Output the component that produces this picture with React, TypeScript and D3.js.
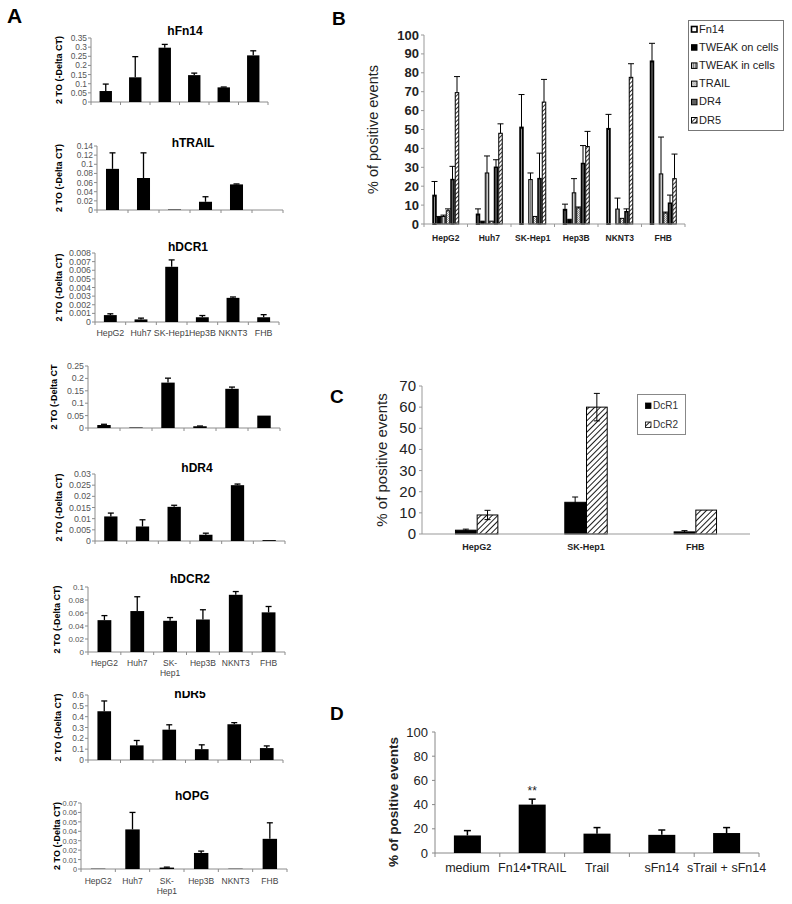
import React from "react";
import * as d3 from "d3";

const FONT = "Arial, 'Liberation Sans', Helvetica, sans-serif";

// ---------- Panel A data ----------
const cellLines = ["HepG2", "Huh7", "SK-Hep1", "Hep3B", "NKNT3", "FHB"];
const cellLinesTwoLine = [["HepG2"], ["Huh7"], ["SK-", "Hep1"], ["Hep3B"], ["NKNT3"], ["FHB"]];

const hFn14Values = [0.06, 0.135, 0.297, 0.147, 0.08, 0.255];
const hFn14Errors = [0.038, 0.113, 0.018, 0.011, 0.002, 0.025];
const hTRAILValues = [0.09, 0.07, 0.001, 0.018, 0.056, 0];
const hTRAILErrors = [0.035, 0.055, 0, 0.011, 0.001, 0];
const hDCR1Values = [0.0008, 0.0003, 0.0064, 0.00055, 0.0028, 0.00055];
const hDCR1Errors = [0.00015, 0.00015, 0.0008, 0.0002, 0.0001, 0.0003];
const untitledValues = [0.012, 0.002, 0.183, 0.007, 0.158, 0.05];
const untitledErrors = [0.003, 0, 0.018, 0.001, 0.007, 0];
const hDR4Values = [0.011, 0.0065, 0.0153, 0.0028, 0.025, 0.0004];
const hDR4Errors = [0.0015, 0.003, 0.0007, 0.0007, 0.0005, 0];
const hDCR2Values = [0.049, 0.063, 0.048, 0.05, 0.088, 0.061];
const hDCR2Errors = [0.007, 0.022, 0.005, 0.015, 0.005, 0.009];
const hDR5Values = [0.45, 0.135, 0.28, 0.1, 0.33, 0.11];
const hDR5Errors = [0.095, 0.045, 0.045, 0.04, 0.015, 0.02];
const hOPGValues = [0.0003, 0.042, 0.0015, 0.017, 0.0003, 0.032];
const hOPGErrors = [0, 0.018, 0.0005, 0.002, 0, 0.017];

// ---------- Panel B data ----------
const seriesB = ["Fn14", "TWEAK on cells", "TWEAK in cells", "TRAIL", "DR4", "DR5"];
const fn14Values = [15, 5, 51, 7.5, 50.3, 86];
const fn14Errors = [7.5, 3, 17.5, 3, 7.7, 9.6];
const tweakOnValues = [3.5, 1.5, 0, 2.5, 0, 0];
const tweakOnErrors = [0.5, 0, 0, 0, 0, 0];
const tweakInValues = [4, 27, 23.5, 16.5, 7.9, 26.5];
const tweakInErrors = [0.7, 9, 3.5, 7.5, 5.8, 19.5];
const trailValues = [7, 1.5, 4, 8.5, 3, 5.8];
const trailErrors = [1, 0, 0, 0.5, 0, 0.5];
const dr4Values = [23.5, 30, 24, 32, 6.5, 11];
const dr4Errors = [7, 4, 13.5, 9.5, 1.5, 4.3];
const dr5Values = [69.5, 48, 64.5, 41, 77.6, 24];
const dr5Errors = [8.5, 5, 12, 8, 7.2, 13];
const yTicksB = [0, 10, 20, 30, 40, 50, 60, 70, 80, 90, 100];

// ---------- Panel C data ----------
const cellLinesC = ["HepG2", "SK-Hep1", "FHB"];
const seriesC = ["DcR1", "DcR2"];
const dcr1Values = [1.8, 15, 1];
const dcr1Errors = [0.5, 2.5, 0.6];
const dcr2Values = [9, 60, 11.3];
const dcr2Errors = [2.2, 6.5, 0];
const yTicksC = [0, 10, 20, 30, 40, 50, 60, 70];

// ---------- Panel D data ----------
const treatmentsD = ["medium", "Fn14\u2022TRAIL", "Trail", "sFn14", "sTrail + sFn14"];
const dValues = [14.5, 40, 16, 15, 16.5];
const dErrors = [4, 4.5, 5, 4, 4.5];
const yTicksD = [0, 20, 40, 60, 80, 100];

// ---------- Panel A layouts ----------
type ACfg = {
  title: string; values: number[]; errors: number[]; max: number; step: number;
  x0: number; x1: number; yTop: number; yBot: number; titleX: number; titleY: number;
  labels: "none" | "single" | "double"; labelY: number; yLabel: string; yLabelX: number;
  tickFont: number; labelFont: number; clipTitle?: number;
};

const panelsA: ACfg[] = [
  { title: "hFn14", values: hFn14Values, errors: hFn14Errors, max: 0.35, step: 0.05,
    x0: 91, x1: 268, yTop: 38, yBot: 102, titleX: 185, titleY: 35, labels: "none", labelY: 0,
    yLabel: "2 TO (-Delta CT)", yLabelX: 62, tickFont: 8.4, labelFont: 8.5 },
  { title: "hTRAIL", values: hTRAILValues, errors: hTRAILErrors, max: 0.14, step: 0.02,
    x0: 97, x1: 283, yTop: 146, yBot: 210, titleX: 193, titleY: 147, labels: "none", labelY: 0,
    yLabel: "2 TO (-Delta CT)", yLabelX: 62, tickFont: 8.4, labelFont: 8.5 },
  { title: "hDCR1", values: hDCR1Values, errors: hDCR1Errors, max: 0.008, step: 0.001,
    x0: 95, x1: 279, yTop: 253, yBot: 322, titleX: 188, titleY: 251, labels: "single", labelY: 336,
    yLabel: "2 TO (-Delta CT)", yLabelX: 62, tickFont: 8.8, labelFont: 8.8 },
  { title: "", values: untitledValues, errors: untitledErrors, max: 0.25, step: 0.05,
    x0: 88, x1: 280, yTop: 366, yBot: 428, titleX: 190, titleY: 360, labels: "none", labelY: 0,
    yLabel: "2 TO (-Delta CT", yLabelX: 57, tickFont: 8.8, labelFont: 8.5 },
  { title: "hDR4", values: hDR4Values, errors: hDR4Errors, max: 0.03, step: 0.005,
    x0: 95, x1: 285, yTop: 474, yBot: 541, titleX: 197, titleY: 472, labels: "none", labelY: 0,
    yLabel: "2 TO (-Delta CT)", yLabelX: 62, tickFont: 8.8, labelFont: 8.5 },
  { title: "hDCR2", values: hDCR2Values, errors: hDCR2Errors, max: 0.1, step: 0.02,
    x0: 88, x1: 285, yTop: 587, yBot: 652, titleX: 190, titleY: 583, labels: "double", labelY: 666,
    yLabel: "2 TO (-Delta CT)", yLabelX: 60, tickFont: 8, labelFont: 8.5 },
  { title: "hDR5", values: hDR5Values, errors: hDR5Errors, max: 0.6, step: 0.1,
    x0: 88, x1: 283, yTop: 695, yBot: 760, titleX: 190, titleY: 698, labels: "none", labelY: 0,
    yLabel: "2 TO (-Delta CT)", yLabelX: 61, tickFont: 8.4, labelFont: 8.5, clipTitle: 691 },
  { title: "hOPG", values: hOPGValues, errors: hOPGErrors, max: 0.07, step: 0.01,
    x0: 81, x1: 287, yTop: 803, yBot: 869, titleX: 192, titleY: 800, labels: "double", labelY: 884,
    yLabel: "2 TO (-Delta CT)", yLabelX: 60, tickFont: 7.4, labelFont: 8.5 },
];

const fmtA = (d: number) => String(+d.toFixed(6));

function QpcrPanel({ cfg, idx }: { cfg: ACfg; idx: number }) {
  const x = d3.scaleBand<string>().domain(cellLines).range([cfg.x0, cfg.x1]);
  const y = d3.scaleLinear().domain([0, cfg.max]).range([cfg.yBot, cfg.yTop]);
  const ticks = d3.range(0, cfg.max + cfg.step / 2, cfg.step);
  const bw = x.bandwidth() * 0.42;
  const axisColor = "#8c8c8c";
  const clipId = `clipA${idx}`;
  return (
    <g>
      {cfg.clipTitle !== undefined && (
        <defs>
          <clipPath id={clipId}>
            <rect x={0} y={cfg.clipTitle} width={300} height={40} />
          </clipPath>
        </defs>
      )}
      {cfg.title && (
        <text x={cfg.titleX} y={cfg.titleY} textAnchor="middle" fontWeight="bold" fontSize={12}
          clipPath={cfg.clipTitle !== undefined ? `url(#${clipId})` : undefined}>{cfg.title}</text>
      )}
      <text transform={`translate(${cfg.yLabelX},${(cfg.yTop + cfg.yBot) / 2}) rotate(-90)`}
        textAnchor="middle" fontWeight="bold" fontSize={9}>{cfg.yLabel}</text>
      {ticks.map((t, i) => (
        <g key={i}>
          <line x1={cfg.x0 - 3} x2={cfg.x0} y1={y(t)} y2={y(t)} stroke={axisColor} />
          <text x={cfg.x0 - 4} y={y(t) + 3} textAnchor="end" fontSize={cfg.tickFont} fill="#555">{fmtA(t)}</text>
        </g>
      ))}
      <line x1={cfg.x0} x2={cfg.x0} y1={cfg.yTop} y2={cfg.yBot} stroke={axisColor} />
      <line x1={cfg.x0} x2={cfg.x1} y1={cfg.yBot} y2={cfg.yBot} stroke={axisColor} />
      {d3.range(cellLines.length + 1).map((i) => (
        <line key={i} x1={cfg.x0 + i * x.step()} x2={cfg.x0 + i * x.step()} y1={cfg.yBot} y2={cfg.yBot + 3} stroke={axisColor} />
      ))}
      {cellLines.map((c, i) => {
        const cx = (x(c) as number) + x.bandwidth() / 2;
        const v = cfg.values[i];
        const e = cfg.errors[i];
        return (
          <g key={c}>
            {v > 0 && <rect x={cx - bw / 2} y={y(v)} width={bw} height={cfg.yBot - y(v)} fill="#000" />}
            {e > 0 && (
              <g stroke="#000" strokeWidth={1.3}>
                <line x1={cx} x2={cx} y1={y(v)} y2={y(v + e)} />
                <line x1={cx - 3} x2={cx + 3} y1={y(v + e)} y2={y(v + e)} />
              </g>
            )}
          </g>
        );
      })}
      {cfg.labels === "single" && cellLines.map((c) => (
        <text key={c} x={(x(c) as number) + x.bandwidth() / 2} y={cfg.labelY} textAnchor="middle" fontSize={cfg.labelFont} fill="#444">{c}</text>
      ))}
      {cfg.labels === "double" && cellLines.map((c, i) => (
        <text key={c} x={(x(c) as number) + x.bandwidth() / 2} y={cfg.labelY} textAnchor="middle" fontSize={cfg.labelFont} fill="#444">
          {cellLinesTwoLine[i].map((s, j) => (
            <tspan key={j} x={(x(c) as number) + x.bandwidth() / 2} dy={j === 0 ? 0 : 10}>{s}</tspan>
          ))}
        </text>
      ))}
    </g>
  );
}

// ---------- Panel B ----------
const fillsB = ["#fff", "#000", "url(#patTweakIn)", "url(#patTrail)", "#5f5f5f", "url(#patHatch)"];
const strokesB = [2, 1, 1, 1, 1.5, 1];

function PanelB() {
  const values = [fn14Values, tweakOnValues, tweakInValues, trailValues, dr4Values, dr5Values];
  const errors = [fn14Errors, tweakOnErrors, tweakInErrors, trailErrors, dr4Errors, dr5Errors];
  const x0 = 424, x1 = 685, yTop = 35, yBot = 224;
  const x = d3.scaleBand<string>().domain(cellLines).range([x0, x1]);
  const inner = d3.scaleBand<string>().domain(seriesB).range([-13.5, 13.5]);
  const y = d3.scaleLinear().domain([0, 100]).range([yBot, yTop]);
  const axisColor = "#999";
  return (
    <g>
      <text x={332} y={25} fontWeight="bold" fontSize={19}>B</text>
      <text transform={`translate(378,${(yTop + yBot) / 2}) rotate(-90)`} textAnchor="middle" fontSize={14.5} fill="#222">% of positive events</text>
      {yTicksB.map((t) => (
        <g key={t}>
          <line x1={x0 - 3} x2={x0} y1={y(t)} y2={y(t)} stroke={axisColor} />
          <text x={x0 - 5} y={y(t) + 4.5} textAnchor="end" fontSize={13} fontWeight="bold" fill="#222">{t}</text>
        </g>
      ))}
      <line x1={x0} x2={x0} y1={yTop} y2={yBot} stroke={axisColor} />
      {cellLines.map((c, gi) => {
        const cx = (x(c) as number) + x.bandwidth() / 2;
        return (
          <g key={c}>
            {seriesB.map((s, si) => {
              const v = values[si][gi];
              const e = errors[si][gi];
              const bx = cx + (inner(s) as number);
              const w = inner.bandwidth();
              const mid = bx + w / 2;
              return (
                <g key={s}>
                  {v > 0 && (
                    <rect x={bx + strokesB[si] / 2} y={y(v)} width={Math.max(w - strokesB[si], 1)} height={yBot - y(v)}
                      fill={fillsB[si]} stroke="#000" strokeWidth={strokesB[si]} />
                  )}
                  {e > 0 && (
                    <g stroke="#000" strokeWidth={1}>
                      <line x1={mid} x2={mid} y1={y(v)} y2={y(v + e)} />
                      <line x1={mid - 3} x2={mid + 3} y1={y(v + e)} y2={y(v + e)} />
                    </g>
                  )}
                </g>
              );
            })}
            <text x={cx} y={241} textAnchor="middle" fontSize={8.5} fontWeight="bold" fill="#222">{c}</text>
          </g>
        );
      })}
      <line x1={x0} x2={x1} y1={yBot} y2={yBot} stroke={axisColor} />
      {d3.range(cellLines.length + 1).map((i) => (
        <line key={i} x1={x0 + i * x.step()} x2={x0 + i * x.step()} y1={yBot} y2={yBot + 3} stroke={axisColor} />
      ))}
      <rect x={688.5} y={20.5} width={95} height={110} fill="#fff" stroke="#777" />
      {seriesB.map((s, i) => (
        <g key={s} transform={`translate(691,${31 + i * 18.2})`}>
          <rect x={0.5} y={-4.5} width={5.5} height={5.5} fill={fillsB[i]} stroke="#000" strokeWidth={i === 0 ? 1.6 : 1} />
          <text x={8} y={1.5} fontSize={11} fill="#222">{s}</text>
        </g>
      ))}
    </g>
  );
}

// ---------- Panel C ----------
function PanelC() {
  const x0 = 422, x1 = 750, yTop = 386, yBot = 534;
  const x = d3.scaleBand<string>().domain(cellLinesC).range([x0, x1]);
  const inner = d3.scaleBand<string>().domain(seriesC).range([-21.7, 21.7]);
  const y = d3.scaleLinear().domain([0, 70]).range([yBot, yTop]);
  const values = [dcr1Values, dcr2Values];
  const errors = [dcr1Errors, dcr2Errors];
  const fills = ["#000", "url(#patHatchC)"];
  return (
    <g>
      <text x={330} y={403} fontWeight="bold" fontSize={19}>C</text>
      <text transform={`translate(387,${(yTop + yBot) / 2}) rotate(-90)`} textAnchor="middle" fontSize={15} fill="#222">% of positive events</text>
      {yTicksC.map((t) => (
        <g key={t}>
          <line x1={x0 - 3} x2={x0} y1={y(t)} y2={y(t)} stroke="#999" />
          <text x={x0 - 6} y={y(t) + 5} textAnchor="end" fontSize={15} fill="#222">{t}</text>
        </g>
      ))}
      <line x1={x0} x2={x0} y1={yTop} y2={yBot} stroke="#999" />
      {cellLinesC.map((c, gi) => {
        const cx = (x(c) as number) + x.bandwidth() / 2;
        return (
          <g key={c}>
            {seriesC.map((s, si) => {
              const v = values[si][gi];
              const e = errors[si][gi];
              const bx = cx + (inner(s) as number);
              const w = inner.bandwidth();
              const mid = bx + w / 2;
              return (
                <g key={s}>
                  <rect x={bx + 0.5} y={y(v)} width={w - 1} height={yBot - y(v)} fill={fills[si]} stroke="#000" strokeWidth={1} />
                  {e > 0 && (
                    <g stroke="#000" strokeWidth={1}>
                      <line x1={mid} x2={mid} y1={y(v - e)} y2={y(v + e)} />
                      <line x1={mid - 3} x2={mid + 3} y1={y(v + e)} y2={y(v + e)} />
                      <line x1={mid - 3} x2={mid + 3} y1={y(v - e)} y2={y(v - e)} />
                    </g>
                  )}
                </g>
              );
            })}
            <text x={cx} y={550} textAnchor="middle" fontSize={9} fontWeight="bold" fill="#222">{c}</text>
          </g>
        );
      })}
      <line x1={x0} x2={x1} y1={yBot} y2={yBot} stroke="#999" />
      <rect x={637.5} y={394.5} width={48} height={40} fill="#fff" stroke="#888" />
      {seriesC.map((s, i) => (
        <g key={s} transform={`translate(645,${407 + i * 19})`}>
          <rect x={0.5} y={-4} width={5.5} height={5.5} fill={fills[i]} stroke="#000" strokeWidth={0.8} />
          <text x={8} y={2} fontSize={10} fill="#333">{s}</text>
        </g>
      ))}
    </g>
  );
}

// ---------- Panel D ----------
function PanelD() {
  const x0 = 435, x1 = 759, yTop = 732, yBot = 853;
  const x = d3.scaleBand<string>().domain(treatmentsD).range([x0, x1]);
  const y = d3.scaleLinear().domain([0, 100]).range([yBot, yTop]);
  const bw = 27;
  return (
    <g>
      <text x={330} y={720} fontWeight="bold" fontSize={19}>D</text>
      <text transform={`translate(398,802) rotate(-90)`} textAnchor="middle" fontSize={13.5} fontWeight="bold" fill="#222">% of positive events</text>
      {yTicksD.map((t) => (
        <g key={t}>
          <line x1={x0 - 3} x2={x0} y1={y(t)} y2={y(t)} stroke="#888" />
          <text x={x0 - 7} y={y(t) + 4.5} textAnchor="end" fontSize={13} fill="#222">{t}</text>
        </g>
      ))}
      <line x1={x0} x2={x0} y1={yTop} y2={yBot} stroke="#888" />
      <line x1={x0} x2={x1} y1={yBot} y2={yBot} stroke="#888" />
      {d3.range(treatmentsD.length + 1).map((i) => (
        <line key={i} x1={x0 + i * x.step()} x2={x0 + i * x.step()} y1={yBot} y2={yBot + 4} stroke="#888" />
      ))}
      {treatmentsD.map((c, i) => {
        const cx = (x(c) as number) + x.bandwidth() / 2;
        const v = dValues[i];
        const e = dErrors[i];
        return (
          <g key={c}>
            <rect x={cx - bw / 2} y={y(v)} width={bw} height={yBot - y(v)} fill="#000" />
            <g stroke="#000" strokeWidth={1.5}>
              <line x1={cx} x2={cx} y1={y(v)} y2={y(v + e)} />
              <line x1={cx - 3.5} x2={cx + 3.5} y1={y(v + e)} y2={y(v + e)} />
            </g>
            <text x={cx} y={872} textAnchor="middle" fontSize={12.5} fill="#222">{c}</text>
            {i === 1 && <text x={cx} y={795} textAnchor="middle" fontSize={12} fill="#222">**</text>}
          </g>
        );
      })}
    </g>
  );
}

export default function App() {
  return (
    <svg width={792} height={904} viewBox="0 0 792 904"
      style={{ position: "absolute", left: 0, top: 0, background: "#fff" }} fontFamily={FONT}>
      <defs>
        <pattern id="patHatch" patternUnits="userSpaceOnUse" width={3} height={3} patternTransform="rotate(45)">
          <rect width={3} height={3} fill="#fff" />
          <line x1={0} y1={0} x2={0} y2={3} stroke="#000" strokeWidth={1.6} />
        </pattern>
        <pattern id="patHatchC" patternUnits="userSpaceOnUse" width={4} height={4} patternTransform="rotate(45)">
          <rect width={4} height={4} fill="#fff" />
          <line x1={0} y1={0} x2={0} y2={4} stroke="#000" strokeWidth={1.8} />
        </pattern>
        <pattern id="patTweakIn" patternUnits="userSpaceOnUse" width={2} height={2}>
          <rect width={2} height={2} fill="#c8c8c8" />
          <rect width={1} height={2} fill="#808080" />
        </pattern>
        <pattern id="patTrail" patternUnits="userSpaceOnUse" width={2} height={2}>
          <rect width={2} height={2} fill="#eee" />
          <rect width={1} height={1} fill="#9a9a9a" />
          <rect x={1} y={1} width={1} height={1} fill="#9a9a9a" />
        </pattern>
      </defs>
      <rect width={792} height={904} fill="#fff" />
      <text x={7} y={23} fontWeight="bold" fontSize={21}>A</text>
      {panelsA.map((cfg, i) => (
        <QpcrPanel key={i} cfg={cfg} idx={i} />
      ))}
      <PanelB />
      <PanelC />
      <PanelD />
    </svg>
  );
}
